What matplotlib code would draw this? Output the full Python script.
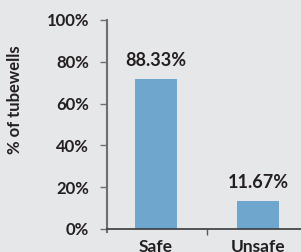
import matplotlib
matplotlib.use("Agg")
import matplotlib.pyplot as plt

categories = ["Safe", "Unsafe"]
bar_heights = [71.8, 13.4]
bar_labels = ["88.33%", "11.67%"]
yticks = [0, 20, 40, 60, 80, 100]
ytick_labels = ["0%", "20%", "40%", "60%", "80%", "100%"]

bg = "#e6e7e9"
txt = "#231f20"
plt.rcParams["font.family"] = ["Lato", "DejaVu Sans"]
plt.rcParams["font.weight"] = "bold"

fig = plt.figure(figsize=(3.01, 2.52), dpi=100, facecolor=bg)
# y runs a little below zero so the left spine pokes under the x axis
ax = fig.add_axes([107 / 301, 19.9 / 252, 194 / 301, 212.1 / 252])
ax.set_facecolor(bg)

ax.spines["top"].set_visible(False)
ax.spines["right"].set_visible(False)
ax.spines["left"].set_color("#6d6e70")
ax.spines["left"].set_linewidth(1.5)
ax.spines["bottom"].set_position(("data", 0))
ax.spines["bottom"].set_color("#3a3a3c")
ax.spines["bottom"].set_linewidth(1.2)

x = range(len(categories))
bars = ax.bar(x, bar_heights, width=0.41, color="#6fa6cd", zorder=2)
for b, lab in zip(bars, bar_labels):
    ax.annotate(lab, (b.get_x() + b.get_width() / 2, b.get_height()),
                xytext=(0, 7), textcoords="offset points", ha="center",
                va="bottom", fontsize=13, fontweight="bold", color=txt)

ax.set_xlim(-0.48, 1.42)
ax.set_ylim(-1.5, 100)
ax.set_yticks(yticks)
ax.set_yticklabels(ytick_labels, fontsize=12, fontweight="bold", color=txt)
ax.set_xticks(list(x))
ax.set_xticklabels(categories, fontsize=12.5, fontweight="bold", color=txt)
ax.tick_params(axis="x", length=0, pad=7.5)
ax.set_xticks([0.5], minor=True)
ax.tick_params(axis="x", which="minor", length=4, width=1, color="#58595b",
               direction="out")
ax.tick_params(axis="y", length=5, width=1, color="#6d6e70", pad=8)

ax.set_ylabel("% of tubewells", fontsize=12, fontweight="bold", color=txt)
ax.yaxis.set_label_coords(-0.433, 0.625)

fig.savefig("out.png", dpi=100, facecolor=bg)
